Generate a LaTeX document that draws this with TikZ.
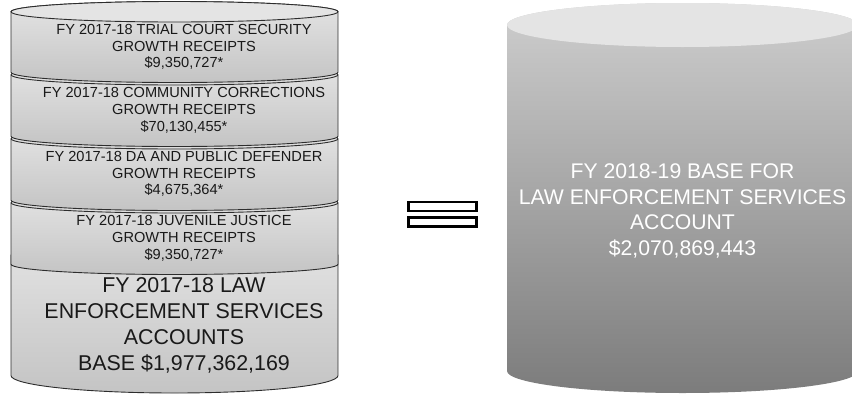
\documentclass[tikz,border=0pt]{standalone}
\usepackage{fontspec}
\setmainfont{Liberation Sans}
\definecolor{segtop}{RGB}{228,228,228}
\definecolor{segbot}{RGB}{196,196,196}
\definecolor{segline}{RGB}{45,45,45}
\definecolor{cantop}{RGB}{206,206,206}
\definecolor{canbot}{RGB}{124,124,124}
\definecolor{canlid}{RGB}{228,228,228}
\begin{document}
\begin{tikzpicture}[x=1pt, y=1pt,
  seg/.style={top color=segtop, bottom color=segbot, draw=segline, line width=0.9pt},
  rim/.style={draw=segline, line width=0.9pt},
  small/.style={align=center, text=black!90, font=\fontsize{14.6}{16.8}\selectfont},
  big/.style={align=center, text=black!90, font=\fontsize{21.4}{26}\selectfont},
  eqbar/.style={draw, line width=2.6pt, fill=white, minimum width=68pt, minimum height=9pt, inner sep=0pt}]
\useasboundingbox (0,0) rectangle (852,-394);
% left stack, bottom part first
\shade[seg] (11,-255.5) -- (11,-375.5) arc[start angle=180, end angle=360, x radius=163.5, y radius=17.5] -- (338,-255.5) arc[start angle=0, end angle=180, x radius=163.5, y radius=17.5] -- cycle;
\shade[seg] (11,-202.75) -- (11,-264.25) arc[start angle=180, end angle=360, x radius=163.5, y radius=10.25] -- (338,-202.75) arc[start angle=0, end angle=180, x radius=163.5, y radius=10.25] -- cycle;
\draw[rim] (11,-202.75) arc[start angle=180, end angle=360, x radius=163.5, y radius=10.25];
\shade[seg] (11,-138.75) -- (11,-200.25) arc[start angle=180, end angle=360, x radius=163.5, y radius=10.25] -- (338,-138.75) arc[start angle=0, end angle=180, x radius=163.5, y radius=10.25] -- cycle;
\draw[rim] (11,-138.75) arc[start angle=180, end angle=360, x radius=163.5, y radius=10.25];
\shade[seg] (11,-74.75) -- (11,-136.25) arc[start angle=180, end angle=360, x radius=163.5, y radius=10.25] -- (338,-74.75) arc[start angle=0, end angle=180, x radius=163.5, y radius=10.25] -- cycle;
\draw[rim] (11,-74.75) arc[start angle=180, end angle=360, x radius=163.5, y radius=10.25];
\shade[seg] (11,-11.75) -- (11,-72.25) arc[start angle=180, end angle=360, x radius=163.5, y radius=10.25] -- (338,-11.75) arc[start angle=0, end angle=180, x radius=163.5, y radius=10.25] -- cycle;
\draw[rim, fill=segtop] (174.5,-11.75) ellipse[x radius=163.5, y radius=10.25];
\node[small] (trial) at (184,-47) {FY 2017-18 TRIAL COURT SECURITY\\GROWTH RECEIPTS\\\$9,350,727*};
\node[small] (comm) at (184,-110.5) {FY 2017-18 COMMUNITY CORRECTIONS\\GROWTH RECEIPTS\\\$70,130,455*};
\node[small] (dapd) at (184,-174) {FY 2017-18 DA AND PUBLIC DEFENDER\\GROWTH RECEIPTS\\\$4,675,364*};
\node[small] (juv) at (184,-238.5) {FY 2017-18 JUVENILE JUSTICE\\GROWTH RECEIPTS\\\$9,350,727*};
\node[big] (lesa) at (184,-325.5) {FY 2017-18 LAW\\ENFORCEMENT SERVICES\\ACCOUNTS\\BASE \$1,977,362,169};
% equals sign
\node[eqbar] (eqtop) at (442.5,-206.5) {};
\node[eqbar] (eqbot) at (442.5,-222) {};
% right can
\shade[top color=cantop, bottom color=canbot] (507,-25) -- (507,-371) arc[start angle=180, end angle=360, x radius=175.5, y radius=22] -- (858,-25) arc[start angle=0, end angle=180, x radius=175.5, y radius=22] -- cycle;
\fill[canlid] (682.5,-25) ellipse[x radius=175.5, y radius=22];
\node[big, text=white, font=\fontsize{21.2}{25.6}\selectfont] (base) at (682.5,-211) {FY 2018-19 BASE FOR\\LAW ENFORCEMENT SERVICES\\ACCOUNT\\\$2,070,869,443};
\end{tikzpicture}
\end{document}
